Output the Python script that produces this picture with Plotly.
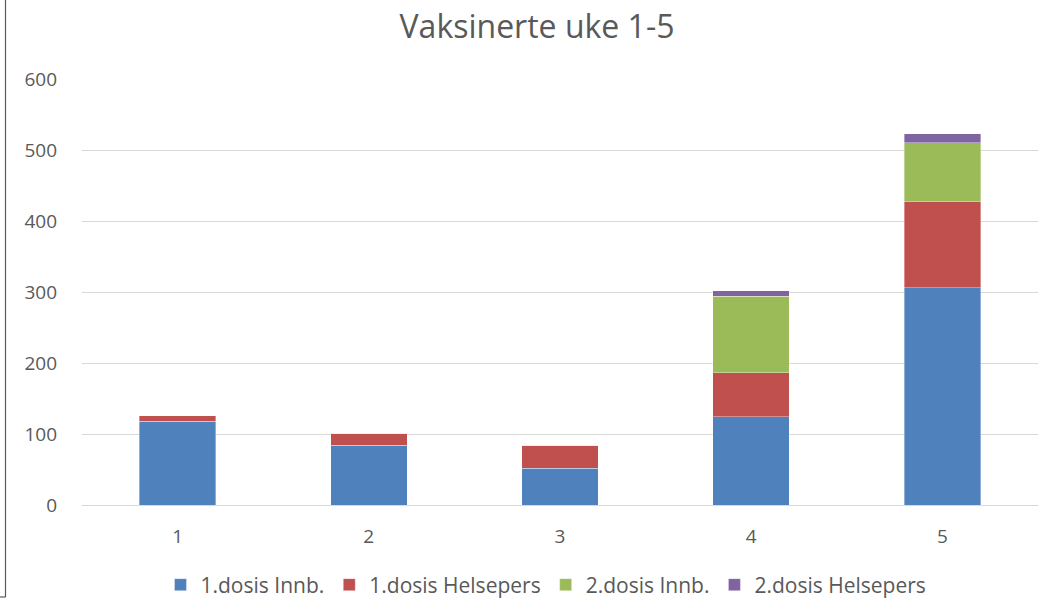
import plotly.graph_objects as go

weeks = ["1", "2", "3", "4", "5"]
dose1_innb = [118, 84, 52, 124, 306]
dose1_helse = [8, 17, 32, 62, 122]
dose2_innb = [0, 0, 0, 108, 82]
dose2_helse = [0, 0, 0, 8, 13]

series = [
    ("1.dosis Innb.", dose1_innb, "#4f81bd"),
    ("1.dosis Helsepers", dose1_helse, "#c0504d"),
    ("2.dosis Innb.", dose2_innb, "#9bbb59"),
    ("2.dosis Helsepers", dose2_helse, "#8064a2"),
]

fig = go.Figure()
for name, vals, col in series:
    fig.add_trace(go.Bar(
        x=weeks, y=vals, name=name,
        marker=dict(color=col, line=dict(color="rgba(255,255,255,0.6)", width=0.6)),
    ))

W, H = 1051, 600
L, R, T, B = 82, 13, 79, 95
pw = W - L - R
ph = H - T - B

def px_x(x):
    return (x - L) / pw

def px_y(y):
    return (H - B - y) / ph

font = "Open Sans, Liberation Sans, sans-serif"
fig.update_layout(
    width=W, height=H,
    margin=dict(l=L, r=R, t=T, b=B, autoexpand=False),
    barmode="stack",
    bargap=0.6,
    plot_bgcolor="white",
    paper_bgcolor="white",
    font=dict(family=font, color="#595959", size=20),
    title=dict(text="Vaksinerte uke 1-5", x=537 / W, xanchor="center",
               y=1 - 27 / H, yanchor="middle",
               font=dict(size=32, color="#595959", family=font)),
    xaxis=dict(showgrid=False, showline=True, linecolor="#d9d9d9", linewidth=1,
               ticks="", automargin=False, ticklabelstandoff=14,
               tickfont=dict(size=19, color="#595959")),
    yaxis=dict(range=[0, 600], dtick=100, showgrid=True, gridcolor="#d9d9d9",
               gridwidth=1, zeroline=False, showline=False, ticks="",
               automargin=False, ticklabelstandoff=24,
               tickfont=dict(size=19, color="#595959")),
    legend=dict(orientation="h", xref="container", yref="container",
                x=546 / W, xanchor="center",
                y=1 - 585 / H, yanchor="middle", traceorder="normal",
                font=dict(size=21, color="#595959"), itemwidth=30),
    showlegend=True,
    shapes=[
        dict(type="line", xref="paper", yref="paper",
             x0=px_x(5.5), x1=px_x(5.5), y0=px_y(0), y1=px_y(597),
             line=dict(color="#595959", width=1.2)),
        dict(type="line", xref="paper", yref="paper",
             x0=px_x(0), x1=px_x(5.5), y0=px_y(597), y1=px_y(597),
             line=dict(color="#595959", width=1.2)),
    ],
)

fig.write_html("out.html",
               config={"displayModeBar": False},
               post_script="document.body.style.margin='0';document.body.style.overflow='hidden';")
